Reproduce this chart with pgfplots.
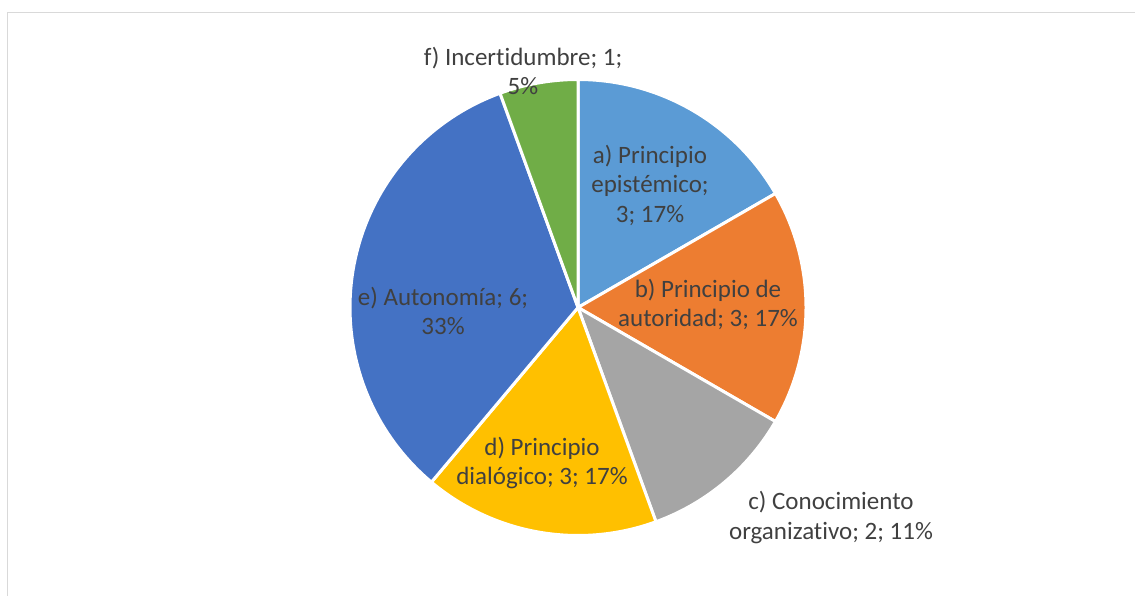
\documentclass[border=0pt]{standalone}
\usepackage{fontspec}
\setmainfont{Carlito}[Ligatures=NoCommon]
\usepackage{pgfplots}
\pgfplotsset{compat=1.18}
\definecolor{ca}{HTML}{5B9BD5}
\definecolor{cb}{HTML}{ED7D31}
\definecolor{cc}{HTML}{A5A5A5}
\definecolor{cd}{HTML}{FFC000}
\definecolor{ce}{HTML}{4472C4}
\definecolor{cf}{HTML}{70AD47}
\definecolor{txt}{HTML}{404040}
\definecolor{frame}{HTML}{D9D9D9}
% data values
\def\va{3}\def\vb{3}\def\vc{2}\def\vd{3}\def\ve{6}\def\vf{1}
\pgfmathsetmacro\total{\va+\vb+\vc+\vd+\ve+\vf}
\newcommand{\pieslice}[3]{% cumulative before, value, colour
  \pgfmathsetmacro\sA{90-360*(#1)/\total}%
  \pgfmathsetmacro\sB{90-360*((#1)+(#2))/\total}%
  \addplot[fill=#3, draw=white, line width=3pt, line join=round,
    domain=\sB:\sA, samples=80, variable=\t]
    ({578+228*cos(\t)},{287.5+228*sin(\t)}) -- (axis cs:578,287.5) -- cycle;
}
\begin{document}
\begin{tikzpicture}
\useasboundingbox (0,0) rectangle (1135pt,595pt);
\draw[frame, line width=1.5pt] (7.5pt,-20pt) -- (7.5pt,582.5pt) -- (1160pt,582.5pt);
\begin{axis}[x=1pt, y=1pt, xmin=0, xmax=1135, ymin=0, ymax=595,
  hide axis, anchor=origin, at={(0pt,0pt)}, clip=false]
\pieslice{0}{\va}{ca}
\pieslice{\va}{\vb}{cb}
\pieslice{\va+\vb}{\vc}{cc}
\pieslice{\va+\vb+\vc}{\vd}{cd}
\pieslice{\va+\vb+\vc+\vd}{\ve}{ce}
\pieslice{\va+\vb+\vc+\vd+\ve}{\vf}{cf}
\tikzset{lab/.style={text=txt, align=center, inner sep=0pt, font=\fontsize{25}{29.5}\selectfont}}
\node[lab] at (axis cs:650,410) {a) Principio\\epistémico;\\3; 17\%};
\node[lab] at (axis cs:708,290.5) {b) Principio de\\autoridad; 3; 17\%};
\node[lab] at (axis cs:831,77.5) {c) Conocimiento\\organizativo; 2; 11\%};
\node[lab] at (axis cs:542,132) {d) Principio\\dialógico; 3; 17\%};
\node[lab] at (axis cs:443,284) {e) Autonomía; 6;\\33\%};
\node[lab] at (axis cs:523,524) {f) Incertidumbre; 1;\\5\%};
\end{axis}
\end{tikzpicture}
\end{document}
